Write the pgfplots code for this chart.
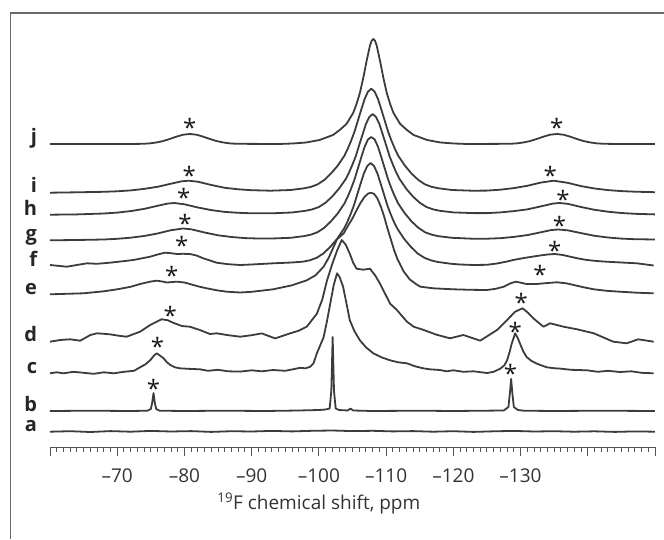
\documentclass[border=0pt]{standalone}
\usepackage{fontspec}
\setmainfont{Open Sans}
\usepackage{pgfplots}
\usepackage{pgfplotstable}
\pgfplotsset{compat=1.18}

\definecolor{spec}{RGB}{60,60,60}
\definecolor{framec}{RGB}{105,105,105}
\definecolor{tickc}{RGB}{85,85,85}

% heights above each spectrum's own baseline, in pt (1pt = 1px of the figure)
\pgfplotstableread{
x h
-60 0
-72 0
-73.8 0.2
-74.8 0.6
-75.8 1.5
-76.8 2.9
-77.8 5.0
-78.8 7.3
-79.8 9.3
-80.8 10
-81.8 9.3
-82.8 7.3
-83.8 5.0
-84.8 2.9
-85.8 1.5
-86.8 0.6
-87.8 0.2
-94 0
-96.1 0.5
-98.1 1.5
-100.1 4
-102.1 9
-103.1 14
-104.1 20
-105.1 31
-105.6 40
-106.1 51
-106.6 66
-107.1 83
-107.6 98.5
-107.85 103.3
-108.1 105
-108.35 103.3
-108.6 98.5
-109.1 83
-109.6 66
-110.1 51
-110.6 40
-111.1 31
-112.1 20
-113.1 14
-114.1 9
-116.1 4
-118.1 1.5
-120.1 0.5
-122.1 0
-128.4 0.2
-129.4 0.6
-130.4 1.5
-131.4 2.9
-132.4 5.0
-133.4 7.3
-134.4 9.3
-135.4 10
-136.4 9.3
-137.4 7.3
-138.4 5.0
-139.4 2.9
-140.4 1.5
-141.4 0.6
-142.4 0.2
-145 0
-150 0
}\tj

\pgfplotstableread{
x h
-60 0
-64 0.4
-68 0.9
-70 1.4
-72 2.3
-74 3.8
-76 5.9
-78 9.0
-79.5 11.3
-80.6 12
-82 11
-84 7.7
-86 4.9
-88 3.4
-90 2.5
-92.8 2.0
-95.8 2.7
-97.8 4.4
-98.8 5.8
-99.8 8.3
-100.8 12.7
-101.8 19.2
-102.8 27
-103.8 37
-104.3 44
-104.8 52
-105.3 61
-105.8 72
-106.3 83
-106.8 93.6
-107.3 101
-107.8 104
-108.3 101
-108.8 93.6
-109.3 83
-109.8 72
-110.3 61
-110.8 52
-111.3 44
-111.8 37
-112.8 27
-113.8 19
-114.8 12.7
-115.8 8.3
-116.8 5.8
-117.8 4.4
-119.8 2.7
-122.8 2.0
-125 2.1
-127 3.0
-129 4.6
-131 6.9
-133 10.1
-134.9 12
-137 9.9
-139 6.6
-141 4.2
-143 2.6
-145 1.6
-147 1.0
-150 0.5
}\ti

\pgfplotstableread{
x h
-60 0.3
-64 0.6
-68 1.5
-70 2.4
-72 3.9
-74 6.1
-76 9.2
-77.5 11.4
-78.5 12
-80 10.7
-82 7.5
-84 4.9
-86 3.1
-88 2.2
-90 1.7
-93 1.7
-96 2.5
-98 4.2
-99 5.6
-100 8
-101 12.3
-102 18.6
-103 26.4
-104 36
-104.5 42.7
-105 50.5
-105.5 59
-106 70
-106.5 80.5
-107 91
-107.5 98
-108 101
-108.5 98
-109 91
-109.5 80.5
-110 70
-110.5 59
-111 50.5
-111.5 42.7
-112 36
-113 26.2
-114 18.4
-115 12.3
-116 8.0
-117 5.6
-118 4.2
-120 2.6
-123 1.9
-125 1.9
-127 2.6
-129 3.9
-131 5.6
-133 8.6
-134.8 11.4
-135.8 12
-137 11.2
-139 8.0
-141 5.2
-143 3.3
-145 2.0
-147 1.2
-150 0.6
}\th

\pgfplotstableread{
x h
-60 0.2
-64 0.5
-68 1.0
-70 1.7
-72 2.8
-74 4.5
-76 7.0
-78 10.3
-79.8 12
-81 11.2
-83 8.0
-85 5.2
-87 3.5
-89 2.4
-91 2.0
-93 2.0
-95.8 2.7
-97.8 4.4
-98.8 5.8
-99.8 8.3
-100.8 12.7
-101.8 19.2
-102.8 27
-103.8 37
-104.3 44
-104.8 52
-105.3 61
-105.8 72
-106.3 83
-106.8 93.6
-107.3 101
-107.8 103.5
-108.3 101
-108.8 93.6
-109.3 83
-109.8 72
-110.3 61
-110.8 52
-111.3 44
-111.8 37
-112.8 27
-113.8 19
-114.8 12.7
-115.8 8.2
-116.8 5.8
-117.8 4.3
-119.8 2.7
-122.8 1.8
-125 1.8
-127 2.3
-129 3.6
-131 5.4
-133 8.2
-134.6 10.5
-135.6 11
-137 10.2
-139 7.4
-141 4.7
-143 3.0
-145 1.9
-147 1.3
-150 1.0
}\tg

\pgfplotstableread{
x h
-60 1
-62.5 -0.7
-64 1
-65.5 2.7
-67 2.2
-68.9 3.3
-70.5 4.5
-72.4 6
-74.9 9.3
-76 11.5
-77.1 13.3
-78 12.8
-78.9 12
-79.8 12.2
-80.8 12
-81.8 10.5
-82.8 7.7
-84.8 3.3
-86.5 1.8
-88.3 1
-90 1.5
-93.2 2.7
-96 3.5
-97.7 4.4
-98.7 5.8
-99.7 8.3
-100.7 12.7
-101.7 19.2
-102.7 27
-103.7 37
-104.2 43.6
-104.7 51.5
-105.2 60.4
-105.7 71.3
-106.2 82.2
-106.7 92.7
-107.2 100
-107.7 103
-108.2 100
-108.7 92.7
-109.2 82.2
-109.7 71.3
-110.2 60.4
-110.7 51.5
-111.2 43.6
-111.7 37
-112.7 27
-113.7 19
-114.7 12.5
-115.7 8.2
-116.7 5.6
-117.7 4.0
-119.7 2.2
-121 1.5
-123 1
-125 1.2
-126.5 2.5
-128 4.5
-128.9 6
-130.5 8
-132.4 10
-134 11.5
-135.1 12
-136.3 11
-137.4 9.3
-138.6 7.5
-139.9 6
-141.3 5
-142.8 4.3
-145 3.5
-147.3 2.7
-149.8 0.5
}\tf

\pgfplotstableread{
x h
-60 0
-65 1
-68 3
-70 5
-72 7.5
-73.4 10.3
-75 12.8
-75.9 13.6
-76.7 12.8
-77.4 11.8
-78.2 12.3
-78.9 12.6
-80 11.8
-80.8 10.3
-82 8
-83.3 6
-85 3.8
-86.3 2.6
-88.3 1.8
-90 2.5
-93.2 5
-96 9
-98.2 14
-99.5 19
-100.7 27.6
-101.5 37
-102.2 47.6
-102.7 55
-103.2 58
-103.7 61
-104.2 67
-105 76
-105.6 84
-106.2 91.5
-106.8 97.5
-107.3 100.6
-107.7 101.6
-108.2 100.5
-108.7 96
-109.2 88
-109.7 78
-110.2 66
-110.7 55
-111.2 44
-111.7 35
-112.6 23
-113.5 15
-114.5 10
-115.1 7.6
-117 6
-120 5
-122.5 4.5
-125 4.3
-126.3 5.5
-127.5 7.6
-128.5 11
-129.3 12.6
-130.1 11.5
-130.9 10.3
-132.4 10.3
-134 11.3
-135.4 12
-136.8 11
-137.9 9.3
-139.4 7
-140.9 5
-142.8 3.5
-144.8 2.6
-147.3 1.6
-149.8 1
}\te

\pgfplotstableread{
x h
-60 0
-61.5 1.7
-63 2.4
-64.5 1
-66 6.7
-67 8.4
-68.9 7.4
-70.2 6
-71.4 5
-73.4 10
-74.9 16.7
-76.6 22.4
-77.5 21.5
-78.3 19
-79.6 15.7
-80.8 15
-82.3 11.7
-83.8 7.7
-84.8 8.4
-86.3 6.7
-88.3 5
-90 6.5
-91.5 8.3
-93.5 3.3
-95.7 8.3
-97 11
-98.2 15
-99.7 28
-100.5 42
-101.2 61
-102 78
-102.7 91
-103.4 101.7
-104 97
-104.6 88
-105.1 79
-105.6 73
-106.6 72
-107.6 73
-108.4 66
-109.1 58
-110.6 38
-111.6 31.7
-113.1 20
-114.1 15
-115.6 11.7
-117.5 7
-119.5 3.4
-121.5 6.7
-124 1
-126.5 11.7
-128 21.7
-129.2 30
-130.3 33.4
-131.1 29
-131.9 23.4
-133.4 15
-134.4 18.4
-136.4 15
-138.4 12.4
-140.9 8.4
-143.8 0
-145.8 -1.6
-147.5 2.4
-149.8 0
}\td

\pgfplotstableread{
x h
-60 0
-61 1
-62 0
-63.5 1.5
-65 0.5
-66.5 -0.5
-68 1
-69.5 0
-71 1.5
-72.5 2.5
-73.4 6
-74.2 9
-74.9 13
-75.5 18
-75.9 20
-76.4 17.5
-76.9 15
-77.4 11
-77.9 8.3
-78.6 6
-79.3 5
-80.5 4.5
-82.3 4
-83.5 2.5
-85 3.5
-86.5 2
-88.3 1.7
-90 3
-91.5 2
-93.2 3.3
-95 2.5
-96.5 4.5
-97.2 5.5
-98 5
-98.7 6.5
-99.2 10
-99.7 20
-100.2 28
-100.7 36
-101.2 52
-101.7 70
-102.2 88
-102.7 100
-103.1 96
-103.6 86.7
-104.1 70
-104.6 53
-105.3 42
-106.1 33
-107 26
-108.1 20
-109.3 16
-110.6 13
-111.8 11
-113.1 10
-114.3 7
-115.5 5
-116.5 4
-118 3.3
-119 2
-120 3
-121.5 1.5
-123 2
-125 0.3
-126 1.5
-127 4.7
-127.6 8
-128 13
-128.4 22
-128.7 30
-129.2 40
-129.6 35
-129.9 30
-130.4 22
-130.9 16.3
-131.6 12.5
-132.4 9.7
-133.9 6
-135.1 5
-135.9 4.7
-137.5 3.5
-139.9 3
-141.5 1.5
-143 2.5
-144.8 1.3
-146.5 2
-148 0.5
-149.8 0
}\tc

\pgfplotstableread{
x h
-60 0
-66 0.3
-72 0
-74.5 0.3
-75 2
-75.2 8
-75.4 18
-75.6 8
-75.8 2
-76.3 0.3
-80 0
-86 0.3
-92 0
-97 0.5
-100 1
-101 1.5
-101.6 2.5
-101.85 20
-102.05 74
-102.25 20
-102.5 2.5
-103 1
-104.3 0.5
-104.7 2.5
-105.1 0.5
-108 0
-115 0.3
-120 0
-127.5 0.5
-128.2 4
-128.45 20
-128.6 32
-128.75 20
-129 4
-129.6 1
-130.5 0.3
-135 0
-142 0.3
-150 0
}\tb

\pgfplotstableread{
x h
-60 0
-63 0.5
-66 -0.3
-69 0.6
-72 0
-75 0.8
-78 0.2
-81 0.6
-84 -0.2
-87 0.5
-90 0.2
-93 0.8
-96 0.3
-99 0.9
-102 1.2
-105 0.6
-108 0.9
-111 0.3
-114 0.6
-117 0
-120 0.5
-123 -0.2
-126 0.4
-129 0.8
-132 0.2
-135 0.5
-138 0
-141 0.4
-144 -0.2
-147 0.3
-150 0
}\ta

\begin{document}
\begin{tikzpicture}
\useasboundingbox (0,0) rectangle (664pt,539pt);
\draw[framec, line width=1.3pt] (10.5pt,0) -- (10.5pt,526pt) -- (664pt,526pt);
\begin{axis}[
  at={(50pt,92pt)}, anchor=south west,
  scale only axis, width=605pt, height=434pt,
  xmin=-150, xmax=-60, x dir=reverse,
  ymin=0, ymax=434,
  axis x line*=bottom, axis y line=none,
  axis line style={tickc, line width=1pt},
  xtick={-150,-140,...,-60},
  xticklabels={,,–130,–120,–110,–100,–90,–80,–70,},
  minor x tick num=9,
  tick align=outside,
  major tick length=8.5pt, minor tick length=4.5pt,
  every tick/.style={tickc, line width=0.9pt},
  xticklabel style={font=\fontsize{19}{19}\selectfont, text=black!80, anchor=base, yshift=-27pt},
  clip=false,
  cycle list={spec, solid, mark=none, line width=1.8pt, line join=round\\},
]
\addplot table[x=x, y expr=\thisrow{h}+303] {\tj};
\addplot table[x=x, y expr=\thisrow{h}+254.3] {\ti};
\addplot table[x=x, y expr=\thisrow{h}+232] {\th};
\addplot table[x=x, y expr=\thisrow{h}+206.5] {\tg};
\addplot table[x=x, y expr=\thisrow{h}+181] {\tf};
\addplot table[x=x, y expr=\thisrow{h}+152.7] {\te};
\addplot table[x=x, y expr=\thisrow{h}+105.3] {\td};
\addplot table[x=x, y expr=\thisrow{h}+73.7] {\tc};
\addplot table[x=x, y expr=\thisrow{h}+36] {\tb};
\addplot table[x=x, y expr=\thisrow{h}+15.3] {\ta};

\tikzset{lab/.style={anchor=base east, font=\bfseries\fontsize{20}{20}\selectfont, text=black!85},
         ast/.style={anchor=center, inner sep=0pt, font=\fontsize{24}{24}\selectfont, text=black!90}}
\node[lab] at (axis cs:-58.6,303) {j};
\node[lab] at (axis cs:-58.6,254.3) {i};
\node[lab] at (axis cs:-58.6,232) {h};
\node[lab] at (axis cs:-58.6,206.5) {g};
\node[lab] at (axis cs:-58.6,181) {f};
\node[lab] at (axis cs:-58.6,152.7) {e};
\node[lab] at (axis cs:-58.6,105.3) {d};
\node[lab] at (axis cs:-58.6,73.7) {c};
\node[lab] at (axis cs:-58.6,36) {b};
\node[lab] at (axis cs:-58.6,15.3) {a};

\node[ast] at (axis cs:-80.8,320) {*};
\node[ast] at (axis cs:-135.4,320) {*};
\node[ast] at (axis cs:-80.7,271.7) {*};
\node[ast] at (axis cs:-134.4,271.7) {*};
\node[ast] at (axis cs:-79.9,250) {*};
\node[ast] at (axis cs:-136.3,247.7) {*};
\node[ast] at (axis cs:-80.1,223.3) {*};
\node[ast] at (axis cs:-135.8,221.7) {*};
\node[ast] at (axis cs:-79.6,201.7) {*};
\node[ast] at (axis cs:-135.1,197) {*};
\node[ast] at (axis cs:-78.1,171.7) {*};
\node[ast] at (axis cs:-132.9,172.7) {*};
\node[ast] at (axis cs:-77.9,131.7) {*};
\node[ast] at (axis cs:-130.1,144.3) {*};
\node[ast] at (axis cs:-76.0,100.3) {*};
\node[ast] at (axis cs:-129.2,116) {*};
\node[ast] at (axis cs:-75.4,58.3) {*};
\node[ast] at (axis cs:-128.5,73.7) {*};

\node[anchor=base, font=\fontsize{19}{19}\selectfont, text=black!80] at (axis cs:-100,-62) {\textsuperscript{19}F chemical shift, ppm};
\end{axis}
\end{tikzpicture}
\end{document}
